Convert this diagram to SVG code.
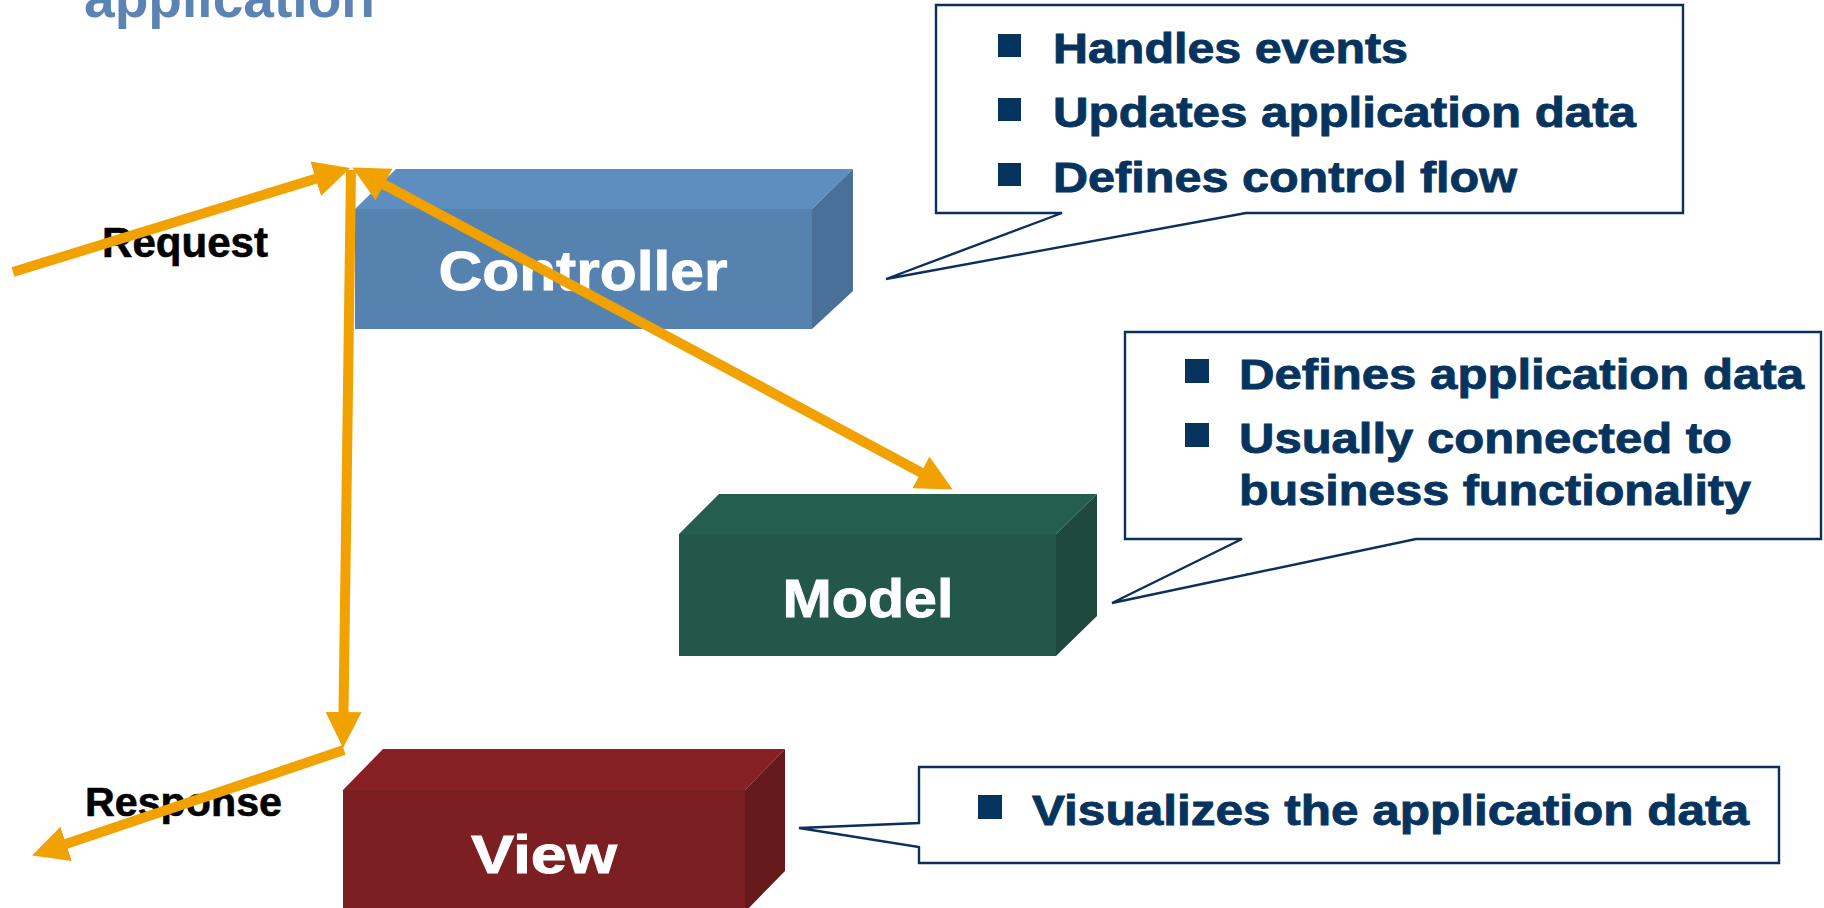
<svg xmlns="http://www.w3.org/2000/svg" width="1824" height="908" viewBox="0 0 1824 908">
<style>
.lbl{font-family:"Liberation Sans",Arial,sans-serif;font-weight:bold}
.call{fill:#ffffff;stroke:#0c2f5c;stroke-width:2.4}
.bt{font-family:"Liberation Sans",Arial,sans-serif;font-weight:bold;font-size:43px;fill:#06345f;stroke:#06345f;stroke-width:0.9}
.bul{fill:#06345f}
.node{font-family:"Liberation Sans",Arial,sans-serif;font-weight:bold;fill:#ffffff;stroke:#ffffff;stroke-width:0.9;text-anchor:middle}
.arr{stroke:#f1a100;stroke-width:10;fill:none}
</style>
<defs>
<marker id="ah" markerUnits="userSpaceOnUse" markerWidth="36" markerHeight="36" refX="16" refY="18" orient="auto-start-reverse" viewBox="0 0 36 36">
<path d="M0,0 L36,18 L0,36 Z" fill="#f1a100"/>
</marker>
</defs>

<text id="title" class="lbl" x="84" y="17" font-size="55" fill="#5b84b4" textLength="291" lengthAdjust="spacingAndGlyphs">application</text>

<g id="controller">
<polygon points="355,209 396,169 853,169 812,209" fill="#5e8dbf"/>
<rect x="355" y="209" width="457" height="120" fill="#5682b0"/>
<polygon points="812,209 853,169 853,291 812,329" fill="#4a6f98"/>
<text class="node" x="583" y="290" font-size="56" textLength="289" lengthAdjust="spacingAndGlyphs">Controller</text>
</g>

<g id="model">
<polygon points="679,534 719,494 1097,494 1056,534" fill="#245e4c"/>
<rect x="679" y="534" width="377" height="122" fill="#22574a"/>
<polygon points="1056,534 1097,494 1097,616 1056,656" fill="#1e4a3e"/>
<text class="node" x="868" y="617" font-size="54" textLength="171" lengthAdjust="spacingAndGlyphs">Model</text>
</g>

<g id="view">
<polygon points="343,790 383,749 785,749 745,790" fill="#862024"/>
<rect x="343" y="790" width="402" height="130" fill="#7b1f22"/>
<polygon points="745,790 785,749 785,871 745,912" fill="#661a1c"/>
<text class="node" x="544" y="873" font-size="54" textLength="146" lengthAdjust="spacingAndGlyphs">View</text>
</g>

<g id="controller-note">
<path class="call" d="M936,5 H1683 V213 H1246 L886,279 L1062,213 H936 Z"/>
<rect class="bul" x="998" y="34" width="23" height="23"/>
<rect class="bul" x="998" y="98" width="23" height="23"/>
<rect class="bul" x="998" y="163" width="23" height="23"/>
<text class="bt" x="1053" y="63" textLength="355" lengthAdjust="spacingAndGlyphs">Handles events</text>
<text class="bt" x="1053" y="127" textLength="583" lengthAdjust="spacingAndGlyphs">Updates application data</text>
<text class="bt" x="1053" y="192" textLength="464" lengthAdjust="spacingAndGlyphs">Defines control flow</text>
</g>

<g id="model-note">
<path class="call" d="M1125,332 H1821 V539 H1416 L1112,603 L1242,539 H1125 Z"/>
<rect class="bul" x="1185" y="359" width="24" height="24"/>
<rect class="bul" x="1185" y="423" width="24" height="24"/>
<text class="bt" x="1239" y="389" textLength="565" lengthAdjust="spacingAndGlyphs">Defines application data</text>
<text class="bt" x="1239" y="453" textLength="493" lengthAdjust="spacingAndGlyphs">Usually connected to</text>
<text class="bt" x="1239" y="505" textLength="512" lengthAdjust="spacingAndGlyphs">business functionality</text>
</g>

<g id="view-note">
<path class="call" d="M919,767 H1779 V863 H919 V847 L799,828 L919,823 Z"/>
<rect class="bul" x="978" y="795" width="24" height="24"/>
<text class="bt" x="1032" y="825" textLength="717" lengthAdjust="spacingAndGlyphs">Visualizes the application data</text>
</g>

<text id="request" class="lbl" x="102" y="257" font-size="42" fill="#000" stroke="#000" stroke-width="0.6" textLength="166" lengthAdjust="spacingAndGlyphs">Request</text>
<text id="response" class="lbl" x="85" y="816" font-size="41" fill="#000" stroke="#000" stroke-width="0.6" textLength="197" lengthAdjust="spacingAndGlyphs">Response</text>

<g id="connectors">
<line class="arr" x1="13" y1="272" x2="331" y2="174" marker-end="url(#ah)"/>
<line class="arr" x1="370" y1="177" x2="935" y2="480" marker-start="url(#ah)" marker-end="url(#ah)"/>
<line class="arr" x1="351" y1="170" x2="343.3" y2="728" marker-end="url(#ah)"/>
<line class="arr" x1="344" y1="750" x2="51" y2="849" marker-end="url(#ah)"/>
</g>
</svg>
